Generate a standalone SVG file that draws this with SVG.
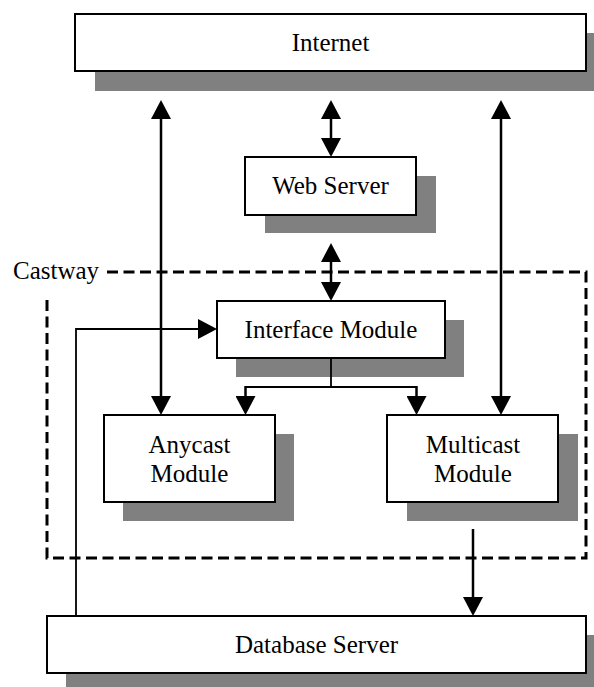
<svg xmlns="http://www.w3.org/2000/svg" width="594" height="687" viewBox="0 0 594 687">
  <style>
    .shadow { fill: #808080; stroke: none; }
    .box { fill: #ffffff; stroke: #000000; stroke-width: 2; }
    .label { font-family: "Liberation Serif", "Times New Roman", serif; font-size: 25px; fill: #000000; text-anchor: middle; }
    .link { fill: none; stroke: #000000; stroke-width: 2.5; }
    .thin { fill: none; stroke: #000000; stroke-width: 1.8; }
    .boundary { fill: none; stroke: #000000; stroke-width: 3; stroke-dasharray: 11 5.5; }
  </style>
  <defs>
    <marker id="head" viewBox="0 0 19 20" refX="15" refY="10" markerWidth="19" markerHeight="20" markerUnits="userSpaceOnUse" orient="auto-start-reverse">
      <path d="M0,0 L19,10 L0,20 Z" fill="#000000"/>
    </marker>
  </defs>

  <rect width="594" height="687" fill="#ffffff"/>

  <!-- Castway boundary -->
  <g id="castway">
    <path class="boundary" d="M47,300 L47,558 L586,558 L586,272 L102,272"/>
    <text class="label" x="13" y="279" style="text-anchor:start">Castway</text>
  </g>

  <g id="internet">
    <rect class="shadow" x="95" y="33" width="499" height="58"/>
    <rect class="box" x="75" y="14" width="511" height="57"/>
    <text class="label" x="330.5" y="51">Internet</text>
  </g>

  <g id="web-server">
    <rect class="shadow" x="265" y="176" width="171" height="57"/>
    <rect class="box" x="245" y="157" width="171" height="58"/>
    <text class="label" x="330.5" y="194">Web Server</text>
  </g>

  <g id="interface-module">
    <rect class="shadow" x="236" y="320" width="228" height="57"/>
    <rect class="box" x="217" y="301" width="228" height="57"/>
    <text class="label" x="331" y="337.5">Interface Module</text>
  </g>

  <g id="anycast-module">
    <rect class="shadow" x="123" y="434" width="171" height="87"/>
    <rect class="box" x="104" y="415" width="171" height="87"/>
    <text class="label" x="189.5" y="453">Anycast</text>
    <text class="label" x="189.5" y="482">Module</text>
  </g>

  <g id="multicast-module">
    <rect class="shadow" x="407" y="434" width="171" height="87"/>
    <rect class="box" x="387" y="415" width="171" height="87"/>
    <text class="label" x="473" y="453">Multicast</text>
    <text class="label" x="473" y="482">Module</text>
  </g>

  <g id="database-server">
    <rect class="shadow" x="66" y="635" width="528" height="52"/>
    <rect class="box" x="47" y="616" width="539" height="57"/>
    <text class="label" x="316.5" y="652.5">Database Server</text>
  </g>

  <g id="connectors">
    <!-- Internet <-> Anycast / Multicast -->
    <line class="link" x1="161" y1="104" x2="161" y2="411" marker-start="url(#head)" marker-end="url(#head)"/>
    <line class="link" x1="501" y1="104" x2="501" y2="411" marker-start="url(#head)" marker-end="url(#head)"/>
    <!-- Internet <-> Web Server -->
    <line class="link" x1="331" y1="104" x2="331" y2="153" marker-start="url(#head)" marker-end="url(#head)"/>
    <!-- Web Server <-> Interface Module -->
    <line class="link" x1="331" y1="247" x2="331" y2="297" marker-start="url(#head)" marker-end="url(#head)"/>
    <!-- Interface Module -> Anycast / Multicast -->
    <path class="thin" d="M331,358 L331,387 M245,387 L417,387"/>
    <line class="link" x1="245.5" y1="386" x2="245.5" y2="411" marker-end="url(#head)"/>
    <line class="link" x1="416.5" y1="386" x2="416.5" y2="411" marker-end="url(#head)"/>
    <!-- Multicast -> Database Server -->
    <line class="link" x1="473" y1="529" x2="473" y2="612" marker-end="url(#head)"/>
    <!-- Database Server -> Interface Module -->
    <path class="thin" d="M76,616 L76,329 L213,329" marker-end="url(#head)"/>
  </g>
</svg>
